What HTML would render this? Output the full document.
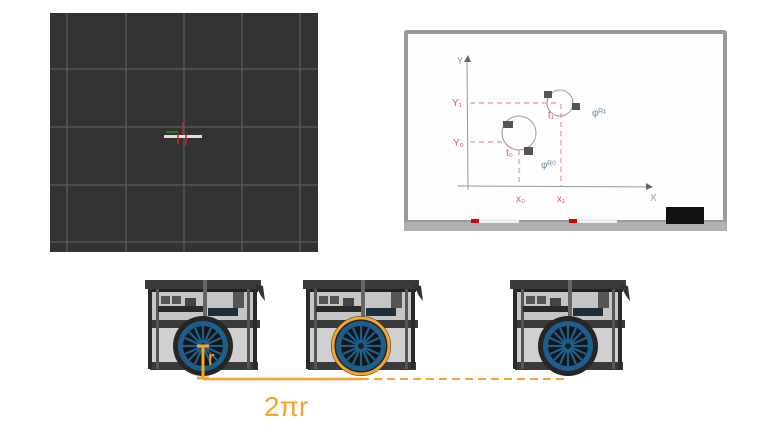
<!DOCTYPE html>
<html><head><meta charset="utf-8"><style>
html,body{margin:0;padding:0;background:#fff;width:768px;height:432px;overflow:hidden}
</style></head><body>
<svg width="768" height="432" viewBox="0 0 768 432" xmlns="http://www.w3.org/2000/svg" font-family="Liberation Sans, sans-serif">
<defs>
<g id="robot">
  <rect x="-55" y="-57" width="108" height="33" fill="#5a5a5a" opacity="0.35"/>
  <rect x="-52" y="-18" width="104" height="34" fill="#444" opacity="0.25"/>
  <rect x="-58" y="-66" width="116" height="9" fill="#3a3a3a"/>
  <rect x="-55" y="-57" width="110" height="3" fill="#222"/>
  <path d="M52 -62 L60 -60 L62 -45 L58 -50 Z" fill="#333"/>
  <rect x="-55" y="-26" width="112" height="8" fill="#3a3a3a"/>
  <rect x="-53" y="16" width="108" height="8" fill="#3a3a3a"/>
  <rect x="-55" y="-57" width="4" height="80" fill="#2a2a2a"/>
  <rect x="-47" y="-57" width="3" height="80" fill="#555"/>
  <rect x="0" y="-66" width="4" height="45" fill="#666"/>
  <rect x="44" y="-57" width="3" height="80" fill="#555"/>
  <rect x="50" y="-57" width="4" height="80" fill="#2a2a2a"/>
  <rect x="-42" y="-50" width="9" height="8" fill="#555"/>
  <rect x="-31" y="-50" width="9" height="8" fill="#555"/>
  <rect x="-18" y="-48" width="11" height="10" fill="#444"/>
  <rect x="-45" y="-40" width="45" height="6" fill="#2a2a2a"/>
  <rect x="5" y="-38" width="30" height="8" fill="#1e2e3a"/>
  <rect x="30" y="-54" width="11" height="16" fill="#555"/>
  <circle cx="0" cy="0" r="30" fill="#262626"/>
  <circle cx="0" cy="0" r="25" fill="#1d5f8c"/>
  <circle cx="0" cy="0" r="20" fill="#161616"/>
  <g stroke="#1d5f8c" stroke-width="2.2">
    <line x1="-20" y1="0" x2="20" y2="0"/><line x1="0" y1="-20" x2="0" y2="20"/>
    <line x1="-14" y1="-14" x2="14" y2="14"/><line x1="-14" y1="14" x2="14" y2="-14"/>
    <line x1="-18" y1="-8" x2="18" y2="8"/><line x1="-8" y1="-18" x2="8" y2="18"/>
    <line x1="-18" y1="8" x2="18" y2="-8"/><line x1="-8" y1="18" x2="8" y2="-18"/>
  </g>
  <circle cx="0" cy="0" r="3" fill="#222"/>
</g>
</defs>

<rect x="50" y="13" width="268" height="239" fill="#333"/>
<g stroke="#5a5a5a" stroke-width="1.3">
  <line x1="67" y1="13" x2="67" y2="252"/><line x1="126" y1="13" x2="126" y2="252"/>
  <line x1="184" y1="13" x2="184" y2="252"/><line x1="242" y1="13" x2="242" y2="252"/>
  <line x1="300" y1="13" x2="300" y2="252"/>
  <line x1="50" y1="69" x2="318" y2="69"/><line x1="50" y1="127" x2="318" y2="127"/>
  <line x1="50" y1="185" x2="318" y2="185"/><line x1="50" y1="242" x2="318" y2="242"/>
</g>
<rect x="164" y="135" width="38" height="3" fill="#ddd"/>
<line x1="166" y1="132" x2="178" y2="132" stroke="#2a7a2a" stroke-width="2"/>
<g stroke="#c22" stroke-width="1.5"><line x1="183" y1="122" x2="183" y2="134"/><line x1="178" y1="134" x2="178" y2="144"/><line x1="186" y1="134" x2="186" y2="145"/></g>

<rect x="404" y="30" width="323" height="201" rx="3" fill="#9a9a9a"/>
<rect x="408" y="34" width="315" height="186" fill="#fdfdfd"/>
<rect x="404" y="222" width="323" height="9" fill="#b0b0b0"/>
<rect x="471" y="219" width="48" height="4" fill="#eee"/><rect x="471" y="219" width="8" height="4" fill="#d00"/>
<rect x="569" y="219" width="48" height="4" fill="#eee"/><rect x="569" y="219" width="8" height="4" fill="#d00"/>
<rect x="666" y="207" width="38" height="17" fill="#111"/>
<g stroke="#999" stroke-width="1" fill="none">
  <line x1="467" y1="60" x2="468" y2="190"/>
  <line x1="458" y1="186" x2="650" y2="187"/>
  <circle cx="560" cy="103" r="13"/>
  <circle cx="519" cy="133" r="17"/>
</g>
<path d="M464 62 L468 55 L471 62 Z M646 183 L653 187 L646 190 Z" fill="#666"/>
<text x="457" y="64" font-size="9" fill="#888">Y</text>
<text x="650" y="201" font-size="10" fill="#999">X</text>
<g stroke="#e07aa0" stroke-width="1" stroke-dasharray="5,4" fill="none">
  <line x1="470" y1="103" x2="558" y2="103"/><line x1="561" y1="104" x2="561" y2="186"/>
  <line x1="470" y1="142" x2="502" y2="142"/><line x1="519" y1="150" x2="519" y2="186"/>
</g>
<g fill="#d45a86" font-size="10">
  <text x="452" y="106">Y₁</text><text x="453" y="146">Y₀</text>
  <text x="516" y="202">x₀</text><text x="557" y="202">x₁</text>
  <text x="548" y="118">t₁</text><text x="506" y="156">t₀</text>
</g>
<g fill="#6a8fb0" font-size="10"><text x="592" y="116">φᴿ¹</text><text x="541" y="168">φᴿ⁰</text></g>
<g fill="#555"><rect x="544" y="91" width="8" height="7"/><rect x="572" y="103" width="8" height="7"/><rect x="503" y="121" width="10" height="7"/><rect x="524" y="147" width="9" height="8"/></g>

<use href="#robot" x="203" y="346"/>
<use href="#robot" x="361" y="346"/>
<use href="#robot" x="568" y="346"/>
<circle cx="361" cy="346" r="28" fill="none" stroke="#f5a52a" stroke-width="3"/>
<line x1="203" y1="379" x2="361" y2="379" stroke="#f5a52a" stroke-width="2.5"/>
<line x1="361" y1="379" x2="568" y2="379" stroke="#f5a52a" stroke-width="2" stroke-dasharray="8,5"/>
<g stroke="#f5a52a" stroke-width="3"><line x1="203" y1="346" x2="203" y2="378"/><line x1="197" y1="346" x2="209" y2="346"/><line x1="197" y1="378" x2="209" y2="378"/></g>
<text x="208" y="365" font-size="20" fill="#f5a52a">r</text>
<text x="264" y="416" font-size="28" fill="#f5a52a">2πr</text>
</svg>
</body></html>
